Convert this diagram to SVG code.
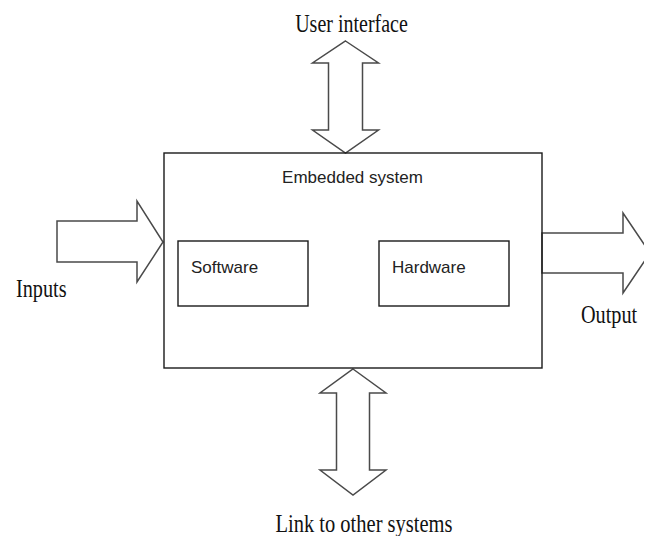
<svg xmlns="http://www.w3.org/2000/svg" width="648" height="536" viewBox="0 0 648 536">
  <style>
    .box { fill: none; stroke: #1a1a1a; stroke-width: 1.4; }
    .arrow { fill: #ffffff; stroke: #4a4a4a; stroke-width: 1.5; stroke-linejoin: miter; }
    .label { font-family: "Liberation Serif", "Times New Roman", serif; font-size: 25px; fill: #111; }
    .inner { font-family: "Liberation Sans", Arial, sans-serif; font-size: 17px; fill: #222; }
  </style>
  <defs>
    <clipPath id="page">
      <rect x="0" y="0" width="644" height="536"/>
    </clipPath>
  </defs>
  <rect x="0" y="0" width="648" height="536" fill="#ffffff"/>

  <!-- connectors: block arrows -->
  <g id="connectors">
    <!-- user interface (two-headed, vertical) -->
    <polygon class="arrow" points="345.5,41 378.5,63 362.5,63 362.5,130 378.5,130 345.5,153 312.5,130 328.5,130 328.5,63 312.5,63"/>
    <!-- link to other systems (two-headed, vertical) -->
    <polygon class="arrow" points="353,369 386,393 369.5,393 369.5,470 386,470 353,495 320,470 336.5,470 336.5,393 320,393"/>
    <!-- inputs -->
    <polygon class="arrow" points="57,221 137,221 137,201 163,242 137,282 137,262 57,262"/>
    <!-- output -->
    <polygon class="arrow" clip-path="url(#page)" points="542,233 623,233 623,213 650,253 623,293 623,273 542,273"/>
  </g>

  <g id="embedded-system">
    <rect class="box" x="164" y="153" width="378" height="215"/>
    <text class="inner" x="352.5" y="183" text-anchor="middle">Embedded system</text>
  </g>

  <g id="software">
    <rect class="box" x="178" y="241" width="130" height="65"/>
    <text class="inner" x="191" y="273">Software</text>
  </g>

  <g id="hardware">
    <rect class="box" x="379" y="241" width="130" height="65"/>
    <text class="inner" x="392" y="273">Hardware</text>
  </g>

  <g id="user-interface">
    <text class="label" transform="translate(351.5,31.5) scale(0.8,1)" text-anchor="middle">User interface</text>
  </g>

  <g id="inputs">
    <text class="label" transform="translate(16,296.5) scale(0.81,1)">Inputs</text>
  </g>

  <g id="output">
    <text class="label" transform="translate(581,323) scale(0.81,1)">Output</text>
  </g>

  <g id="link">
    <text class="label" transform="translate(364,532) scale(0.82,1)" text-anchor="middle">Link to other systems</text>
  </g>
</svg>
